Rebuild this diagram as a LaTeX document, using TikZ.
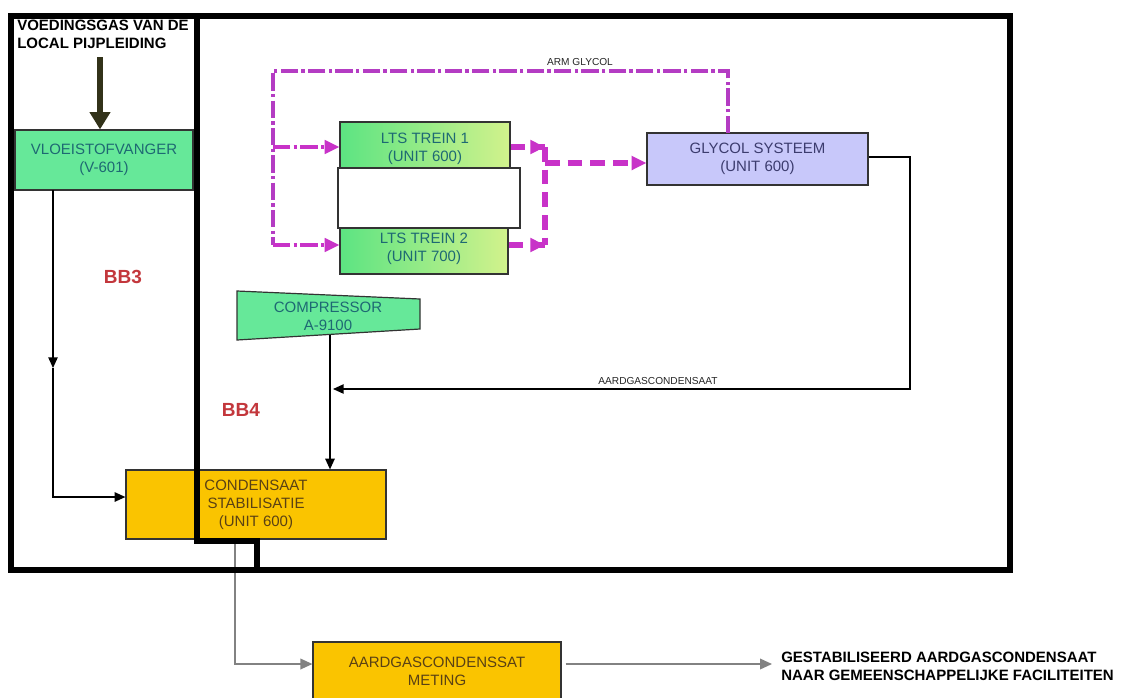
\documentclass[tikz,border=0pt]{standalone}
\usepackage{fontspec}
\setmainfont{Liberation Sans}
\usetikzlibrary{arrows.meta}
\definecolor{mint}{RGB}{102,232,153}
\definecolor{ltsL}{RGB}{92,228,130}
\definecolor{ltsR}{RGB}{210,242,140}
\definecolor{lav}{RGB}{200,200,250}
\definecolor{gold}{RGB}{250,196,0}
\definecolor{txteal}{RGB}{30,105,115}
\definecolor{txslate}{RGB}{60,60,110}
\definecolor{txbrown}{RGB}{90,65,20}
\definecolor{mag}{RGB}{200,50,200}
\definecolor{magtop}{RGB}{180,60,195}
\definecolor{feedolive}{RGB}{50,50,25}
\definecolor{bbred}{RGB}{195,55,60}
\definecolor{flowgray}{RGB}{130,130,130}
\tikzset{
  box/.style={draw=black!80, line width=0.9pt, inner sep=0pt, align=center,
    font=\fontsize{11.25}{13.5}\selectfont},
  frame/.style={line width=4.6pt, black},
  flow/.style={line width=1.1pt, black},
  flowtip/.style={-{Triangle[length=8pt,width=7pt]}},
  grayflow/.style={line width=1.1pt, flowgray},
  graytip/.style={-{Triangle[length=9pt,width=8pt]}},
  dd/.style={line width=2.6pt, magtop, dash pattern=on 13pt off 2.5pt on 2.5pt off 2.5pt},
  thickdash/.style={line width=3.8pt, mag, dash pattern=on 11pt off 6pt},
  magtip/.style={-{Triangle[length=11pt,width=10pt]}, mag},
  bblabel/.style={text=bbred, font=\fontsize{14.25}{16}\selectfont\bfseries},
  small/.style={font=\fontsize{7.6}{9}\selectfont, text=black!85},
  heading/.style={font=\fontsize{11.25}{13.5}\selectfont\bfseries, align=left, inner sep=0pt}
}
\begin{document}
\begin{tikzpicture}[x=0.75pt,y=-0.75pt]
\useasboundingbox[fill=white] (0,0) rectangle (1124,697);

% boxes
\node[box, fill=mint, text=txteal, minimum width=133.5pt, minimum height=45pt] (vlo) at (104,160) {VLOEISTOFVANGER\\(V-601)};
\node[box, left color=ltsL, right color=ltsR, text=txteal, minimum width=127.5pt, minimum height=40.5pt] (lts1) at (425,149) {LTS TREIN 1\\(UNIT 600)};
\node[box, left color=ltsL, right color=ltsR, text=txteal, minimum width=126pt, minimum height=37.5pt] (lts2) at (424,249) {LTS TREIN 2\\(UNIT 700)};
\node[box, fill=white, minimum width=136.5pt, minimum height=45pt] (blank) at (429,198) {};
\node[box, fill=lav, text=txslate, minimum width=165.75pt, minimum height=39pt] (gly) at (757.5,159) {GLYCOL SYSTEEM\\(UNIT 600)};
\node[box, fill=gold, text=txbrown, minimum width=195pt, minimum height=51.75pt] (cond) at (256,504.5) {CONDENSAAT\\STABILISATIE\\(UNIT 600)};
\node[box, fill=gold, text=txbrown, minimum width=186pt, minimum height=43.5pt] (met) at (437,671) {AARDGASCONDENSSAT\\METING};

% compressor
\draw[draw=black!80, line width=0.9pt, fill=mint] (237,291) -- (420,299) -- (420,329) -- (237,340) -- cycle;
\node[align=center, text=txteal, font=\fontsize{11.25}{13.5}\selectfont, inner sep=0pt] (comp) at (328,316) {COMPRESSOR\\A-9100};

% texts
\node[heading, anchor=north west] (feedtxt) at (17,20) {VOEDINGSGAS VAN DE\\LOCAL PIJPLEIDING};
\node[heading, anchor=west] (outtxt) at (781,666) {GESTABILISEERD AARDGASCONDENSAAT\\NAAR GEMEENSCHAPPELIJKE FACILITEITEN};
\node[bblabel] (bb3) at (123,277) {BB3};
\node[bblabel] (bb4) at (241,410) {BB4};
\node[small] (armlbl) at (580,62) {ARM GLYCOL};
\node[small] (aardlbl) at (658,381) {AARDGASCONDENSAAT};

% coordinates
\coordinate (feedtop) at (100,57);
\coordinate (vlob) at (53,190);
\coordinate (vlomid) at (53,368);
\coordinate (condin) at (53,497);
\coordinate (compb) at (330,334.5);
\coordinate (ret1) at (910,157);
\coordinate (ret2) at (910,389);
\coordinate (retend) at (333,389);
\coordinate (condb) at (235,539);
\coordinate (metin) at (235,664);
\coordinate (outend) at (772,664);
\coordinate (glytop) at (728,133);
\coordinate (armR) at (728,71);
\coordinate (armL) at (273,71);
\coordinate (br1) at (273,147);
\coordinate (br2) at (273,245);
\coordinate (j1) at (545,147);
\coordinate (j2) at (545,245);
\coordinate (jg) at (545,163);

% feed arrow
\draw[feedolive, line width=4.5pt, -{Triangle[length=13pt,width=15pt]}] (feedtop) -- (feedtop |- vlo.north);

% black flows
\draw[flow, flowtip] (vlob) -- (vlomid);
\draw[flow, flowtip] (vlomid) -- (condin) -- (condin -| cond.west);
\draw[flow, flowtip] (compb) -- (compb |- cond.north);
\draw[flow, flowtip] (gly.east |- ret1) -- (ret1) -- (ret2) -- (retend);

% gray flows
\draw[grayflow, graytip] (condb) -- (metin) -- (metin -| met.west);
\draw[grayflow, graytip] (met.east |- metin) ++(4,0) -- (outend);

% glycol dash-dot
\draw[dd] (glytop) -- (armR) -- (armL) -- (br2);
\draw[dd, magtip] (br1) -- (br1 -| lts1.west);
\draw[dd, magtip] (br2) -- (br2 -| lts2.west);

% rich glycol thick dashed
\draw[thickdash] (j1) -- (j2);
\draw[thickdash] (lts1.east |- j1) -- (j1);
\draw[thickdash] (lts2.east |- j2) -- (j2);
\draw[magtip, line width=3.8pt] ([xshift=-8pt]j1) -- (j1);
\draw[magtip, line width=3.8pt] ([xshift=-8pt]j2) -- (j2);
\draw[thickdash] (jg) -- ([xshift=-10pt]jg -| gly.west);
\draw[magtip, line width=3.8pt] ([xshift=-10pt]jg -| gly.west) -- (jg -| gly.west);

% frames (BB3 / BB4)
\draw[frame] (11,16) -- (1010,16) -- (1010,570) -- (11,570) -- cycle;
\draw[frame] (197,16) -- (197,541) -- (257,541) -- (257,570);
\end{tikzpicture}
\end{document}
